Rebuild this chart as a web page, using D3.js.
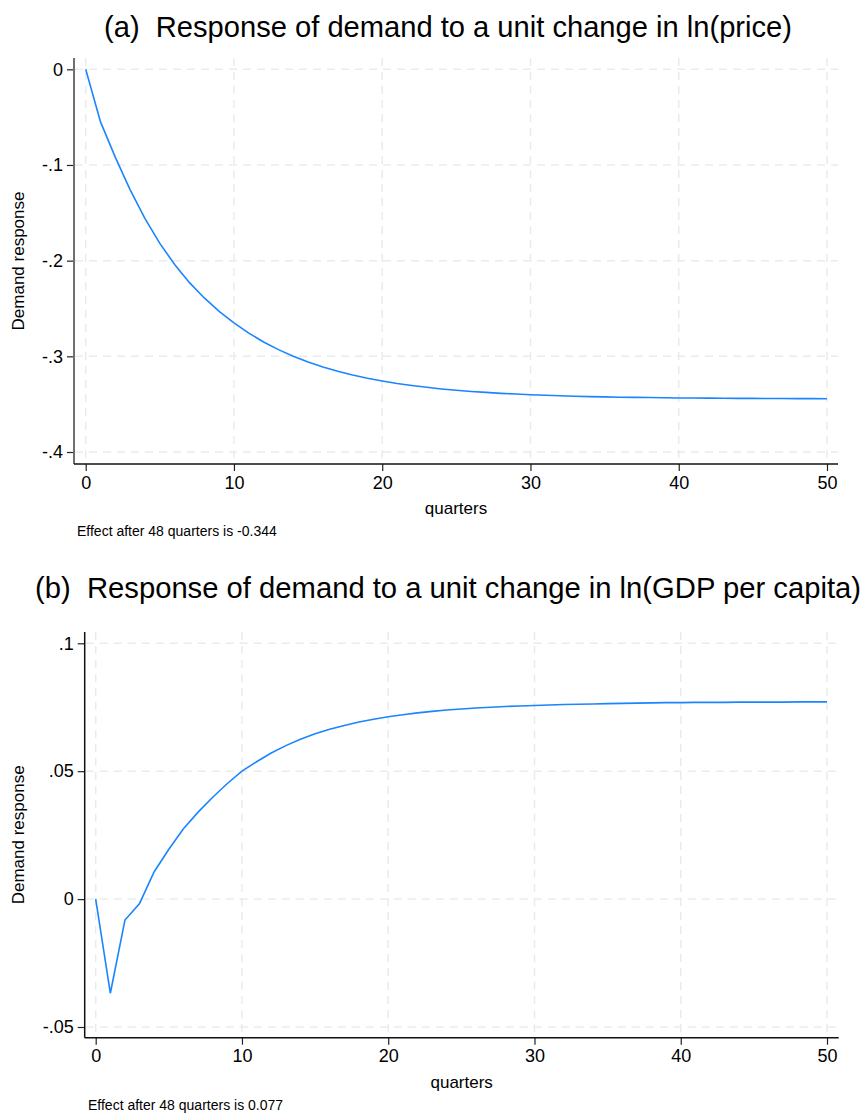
<!DOCTYPE html>
<html>
<head>
<meta charset="utf-8">
<script src="https://cdn.jsdelivr.net/npm/d3@7"></script>
<style>
  body { margin: 0; background: #fff; }
  svg { display: block; font-family: "Liberation Sans", Arial, sans-serif; }
  .grid line { stroke: #ebebeb; stroke-width: 1.5; stroke-dasharray: 8 6; }
  .title { white-space: pre; }
</style>
</head>
<body>
<svg id="chart" width="863" height="1114"></svg>
<script>
// quarters 0..50
var quarters = d3.range(0, 51);

// (a) response to ln(price)
var priceResp = [0, -0.055, -0.092, -0.126, -0.156, -0.182, -0.204, -0.223, -0.239, -0.253,
    -0.265, -0.2757, -0.285, -0.293, -0.300, -0.306, -0.3112, -0.3157, -0.3196, -0.3229,
    -0.3258, -0.3284, -0.3305, -0.3324, -0.3341, -0.3355, -0.3367, -0.3377, -0.3387, -0.3394,
    -0.3401, -0.3407, -0.3412, -0.3417, -0.3421, -0.3424, -0.3427, -0.3429, -0.3431, -0.3433,
    -0.3435, -0.3436, -0.3437, -0.3438, -0.3439, -0.344, -0.3441, -0.3441, -0.3442, -0.3442, -0.3443];

// (b) response to ln(GDP per capita)
var gdpResp = [0, -0.0368, -0.0082, -0.0017, 0.0107, 0.0195, 0.0275, 0.0340, 0.0398, 0.0452,
    0.0500, 0.0537, 0.0571, 0.0600, 0.0625, 0.0646, 0.0664, 0.0679, 0.0692, 0.0703,
    0.0713, 0.0721, 0.0728, 0.0734, 0.0739, 0.0743, 0.0747, 0.0750, 0.0753, 0.0755,
    0.0757, 0.0759, 0.0761, 0.0762, 0.0763, 0.0764, 0.0765, 0.0766, 0.0767, 0.0768,
    0.0768, 0.0769, 0.0769, 0.0769, 0.0770, 0.0770, 0.0770, 0.0770, 0.0771, 0.0771, 0.0771];

var xTicks = [0, 10, 20, 30, 40, 50];
var yTicksA = [0, -0.1, -0.2, -0.3, -0.4];
var yTicksB = [0.1, 0.05, 0, -0.05];

var svg = d3.select("#chart");

function fmt(v) {
    if (v === 0) return "0";
    return String(v).replace("0.", ".");
}

function drawPanel(p) {
    var g = svg.append("g");
    var x = d3.scaleLinear().domain([0, 50]).range([p.x0, p.x1]);
    var y = d3.scaleLinear().domain(p.ydom).range(p.yrange);

    // dashed grid
    var grid = g.append("g").attr("class", "grid");
    grid.selectAll(".hg").data(p.yticks).enter().append("line")
        .attr("x1", p.left + 1).attr("x2", p.right)
        .attr("y1", d => y(d)).attr("y2", d => y(d));
    grid.selectAll(".vg").data(xTicks).enter().append("line")
        .attr("x1", d => x(d)).attr("x2", d => x(d))
        .attr("y1", p.top).attr("y2", p.bottom - 1);

    // axes (ticks only, own axis lines below)
    var ya = g.append("g").attr("transform", "translate(" + p.left + ",0)")
        .call(d3.axisLeft(y).tickValues(p.yticks).tickFormat(fmt).tickSize(7).tickSizeOuter(0).tickPadding(4));
    ya.select(".domain").remove();
    ya.selectAll("line").attr("stroke", "#222").attr("stroke-width", 1.2);
    ya.selectAll("text").style("font-size", "18px").attr("fill", "#000");

    var xa = g.append("g").attr("transform", "translate(0," + p.bottom + ")")
        .call(d3.axisBottom(x).tickValues(xTicks).tickSize(7).tickSizeOuter(0).tickPadding(5));
    xa.select(".domain").remove();
    xa.selectAll("line").attr("stroke", "#222").attr("stroke-width", 1.2);
    xa.selectAll("text").style("font-size", "18px").attr("fill", "#000");

    g.append("line").attr("x1", p.left).attr("x2", p.left)
        .attr("y1", p.top).attr("y2", p.bottom)
        .attr("stroke", p.yAxisColor).attr("stroke-width", p.yAxisWidth);
    g.append("line").attr("x1", p.left).attr("x2", p.right)
        .attr("y1", p.bottom).attr("y2", p.bottom)
        .attr("stroke", "#111").attr("stroke-width", 1.5);

    // response line
    var line = d3.line().x((d, i) => x(quarters[i])).y(d => y(d));
    g.append("path").datum(p.values)
        .attr("d", line)
        .attr("fill", "none")
        .attr("stroke", "#1a85ff")
        .attr("stroke-width", 1.6);

    // texts
    g.append("text").attr("class", "title").attr("x", p.titleX).attr("y", p.titleY)
        .attr("textLength", p.titleLen).attr("lengthAdjust", "spacingAndGlyphs")
        .style("font-size", "29px").attr("fill", "#000")
        .text(p.title);
    g.append("text")
        .attr("transform", "translate(24," + ((p.top + p.bottom) / 2) + ") rotate(-90)")
        .attr("text-anchor", "middle").style("font-size", "17px").attr("fill", "#000")
        .text("Demand response");
    g.append("text").attr("x", (p.left + p.right) / 2).attr("y", p.bottom + 50)
        .attr("text-anchor", "middle").style("font-size", "17px").attr("fill", "#000")
        .text("quarters");
    g.append("text").attr("x", p.noteX).attr("y", p.bottom + 72)
        .style("font-size", "14px").attr("fill", "#000")
        .text(p.note);
}

drawPanel({
    title: "(a)  Response of demand to a unit change in ln(price)",
    titleX: 104, titleY: 37, titleLen: 688,
    x0: 85.7, x1: 827, left: 74, right: 838, top: 58, bottom: 464,
    ydom: [-0.4, 0], yrange: [452, 69.3], yticks: yTicksA,
    yAxisColor: "#707070", yAxisWidth: 2,
    values: priceResp,
    noteX: 77, note: "Effect after 48 quarters is -0.344"
});

drawPanel({
    title: "(b)  Response of demand to a unit change in ln(GDP per capita)",
    titleX: 35, titleY: 598, titleLen: 826,
    x0: 95.7, x1: 827, left: 84.7, right: 838.7, top: 632, bottom: 1037.7,
    ydom: [-0.05, 0.1], yrange: [1027, 643.3], yticks: yTicksB,
    yAxisColor: "#111", yAxisWidth: 1.5,
    values: gdpResp,
    noteX: 88, note: "Effect after 48 quarters is 0.077"
});
</script>
</body>
</html>
